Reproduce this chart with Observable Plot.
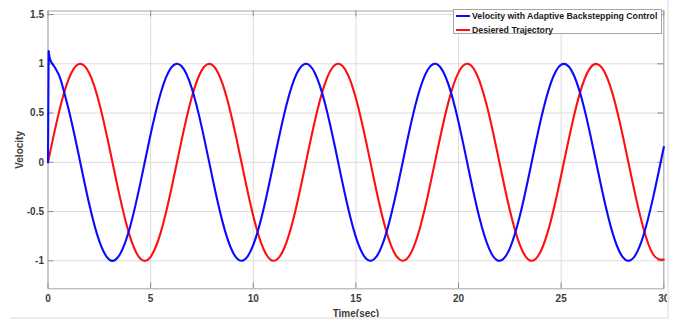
<!DOCTYPE html>
<html>
<head>
<meta charset="utf-8">
<script src="https://cdn.jsdelivr.net/npm/d3@7"></script>
<script src="https://cdn.jsdelivr.net/npm/@observablehq/plot@0.6"></script>
<style>
  html, body { margin: 0; padding: 0; background: #fff; }
  #wrap { position: relative; width: 680px; height: 320px; overflow: hidden; font-family: "Liberation Sans", Arial, sans-serif; }
  #edge { position: absolute; left: 10px; top: 0; width: 657px; height: 317px; border-right: 2px solid #ececec; border-bottom: 2px solid #ececec; pointer-events: none; }
  #legend { position: absolute; left: 453px; top: 9px; width: 209px; height: 25px; background: #fff; border: 1px solid #a6a6a6; box-sizing: border-box; }
  .item { position: absolute; left: 2px; height: 12px; display: flex; align-items: center; font-weight: bold; font-size: 8.75px; color: #1a1a1a; white-space: nowrap; }
  .sw { width: 14px; height: 2px; margin-right: 2px; }
</style>
</head>
<body>
<div id="wrap">
  <div id="edge"></div>
  <div id="chart"></div>
  <div id="legend"></div>
</div>
<script>
// Time grid of the desired trajectory (sec) and its values
const tRed = [0,0.5,1,1.5,2,2.5,3,3.5,4,4.5,5,5.5,6,6.5,7,7.5,8,8.5,9,9.5,10,10.5,11,11.5,12,12.5,13,13.5,14,14.5,15,15.5,16,16.5,17,17.5,18,18.5,19,19.5,20,20.5,21,21.5,22,22.5,23,23.5,24,24.5,25,25.5,26,26.5,27,27.5,28,28.5,29,29.5,30];
const vRed = [0,0.479,0.841,0.997,0.909,0.598,0.141,-0.351,-0.757,-0.978,-0.959,-0.706,-0.279,0.215,0.657,0.938,0.989,0.798,0.412,-0.075,-0.544,-0.880,-1.000,-0.875,-0.537,-0.066,0.420,0.804,0.991,0.935,0.650,0.207,-0.288,-0.712,-0.961,-0.976,-0.751,-0.342,0.150,0.606,0.913,0.997,0.837,0.472,-0.009,-0.487,-0.846,-0.998,-0.906,-0.592,-0.132,0.359,0.763,0.979,0.956,0.700,0.271,-0.224,-0.664,-0.941,-0.988];

// Velocity with adaptive backstepping control: initial transient
const tBlueStart = [0,0.03,0.08,0.15,0.25];
const vBlueStart = [0,1.13,1.06,1.02,0.99];
// Velocity with adaptive backstepping control: tracking phase
const tBlue = [0.25,0.4,0.6,0.8,1,1.25,1.5,2,2.5,3,3.5,4,4.5,5,5.5,6,6.5,7,7.5,8,8.5,9,9.5,10,10.5,11,11.5,12,12.5,13,13.5,14,14.5,15,15.5,16,16.5,17,17.5,18,18.5,19,19.5,20,20.5,21,21.5,22,22.5,23,23.5,24,24.5,25,25.5,26,26.5,27,27.5,28,28.5,29,29.5,30];
const vBlue = [0.99,0.94,0.85,0.70,0.54,0.315,0.071,-0.416,-0.801,-0.990,-0.936,-0.654,-0.211,0.284,0.709,0.960,0.977,0.754,0.347,-0.146,-0.602,-0.911,-0.997,-0.839,-0.476,0.004,0.483,0.844,0.998,0.907,0.595,0.137,-0.355,-0.760,-0.978,-0.958,-0.702,-0.275,0.219,0.660,0.940,0.989,0.796,0.408,-0.080,-0.548,-0.882,-1.000,-0.873,-0.533,-0.062,0.424,0.806,0.991,0.933,0.647,0.202,-0.292,-0.714,-0.963,-0.975,-0.748,-0.338,0.154];

const xTicks = [0,5,10,15,20,25,30];
const yTicks = [-1,-0.5,0,0.5,1,1.5];
const yLabels = ["-1","-0.5","0","0.5","1","1.5"];
const seriesNames = ["Velocity with Adaptive Backstepping Control", "Desiered Trajectory"];
const seriesColors = ["#0a0aff", "#ff1010"];

const xDomain = [0, 30];
const yDomain = [-1.284, 1.536];

const red = tRed.map((t, i) => ({t, v: vRed[i]}));
const blueStart = tBlueStart.map((t, i) => ({t, v: vBlueStart[i]}));
const blue = tBlue.map((t, i) => ({t, v: vBlue[i]}));

const chart = Plot.plot({
  width: 680,
  height: 320,
  marginLeft: 47.5,
  marginRight: 16.7,
  marginTop: 10.5,
  marginBottom: 31.7,
  x: {domain: xDomain},
  y: {domain: yDomain},
  style: {fontFamily: "'Liberation Sans', Arial, sans-serif", fontSize: "10px", fontWeight: "bold", color: "#3c3c3c", background: "transparent"},
  marks: [
    Plot.gridX(xTicks, {stroke: "#dcdcdc", strokeOpacity: 1, strokeWidth: 1}),
    Plot.gridY(yTicks, {stroke: "#dcdcdc", strokeOpacity: 1, strokeWidth: 1}),
    Plot.ruleX(xTicks, {y1: yDomain[0], y2: yDomain[0] + 0.06, stroke: "#8c8c8c"}),
    Plot.ruleX(xTicks, {y1: yDomain[1], y2: yDomain[1] - 0.06, stroke: "#8c8c8c"}),
    Plot.ruleY(yTicks, {x1: xDomain[0], x2: xDomain[0] + 0.29, stroke: "#8c8c8c"}),
    Plot.ruleY(yTicks, {x1: xDomain[1], x2: xDomain[1] - 0.29, stroke: "#8c8c8c"}),
    Plot.frame({stroke: "#a6a6a6"}),
    Plot.axisX(xTicks, {tickSize: 0, tickPadding: 6, tickFormat: d => String(d), label: "Time(sec)", labelAnchor: "center", labelArrow: "none", labelOffset: 28}),
    Plot.axisY(yTicks, {tickSize: 0, tickPadding: 4, tickFormat: (d, i) => yLabels[i], label: "Velocity", labelAnchor: "center", labelArrow: "none", labelOffset: 32}),
    Plot.line(red, {x: "t", y: "v", stroke: seriesColors[1], strokeWidth: 2.1, curve: "natural"}),
    Plot.line(blueStart, {x: "t", y: "v", stroke: seriesColors[0], strokeWidth: 2.1, curve: "linear"}),
    Plot.line(blue, {x: "t", y: "v", stroke: seriesColors[0], strokeWidth: 2.1, curve: "natural"})
  ]
});
document.getElementById("chart").appendChild(chart);

const legend = document.getElementById("legend");
seriesNames.forEach((name, i) => {
  const item = document.createElement("div");
  item.className = "item";
  item.style.top = (i * 13.5) + "px";
  const sw = document.createElement("span");
  sw.className = "sw";
  sw.style.background = seriesColors[i];
  const tx = document.createElement("span");
  tx.textContent = name;
  item.appendChild(sw);
  item.appendChild(tx);
  legend.appendChild(item);
});
</script>
</body>
</html>
